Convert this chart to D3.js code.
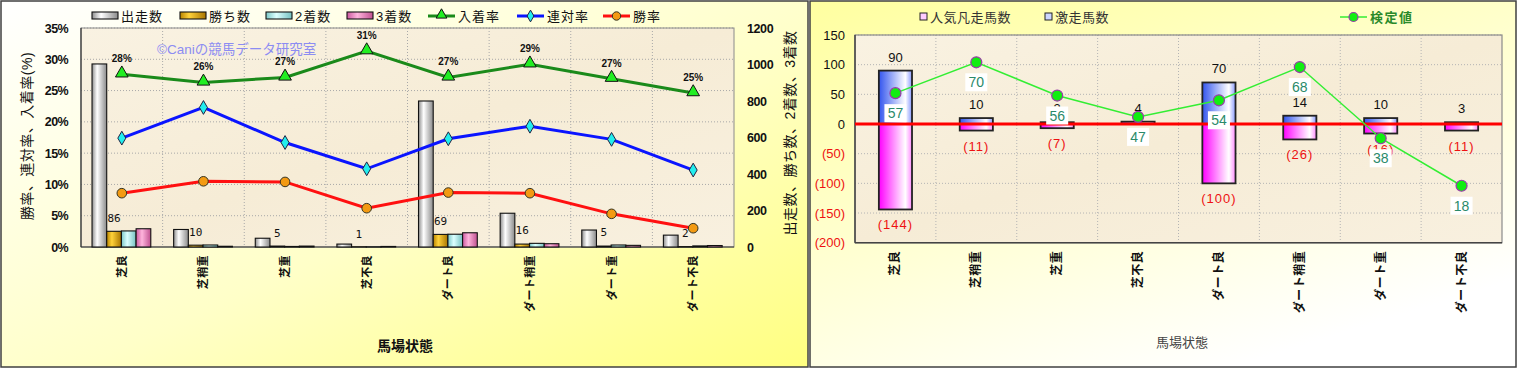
<!DOCTYPE html>
<html><head><meta charset="utf-8">
<script src="https://cdn.jsdelivr.net/npm/d3@7"></script>
<style>
html,body{margin:0;padding:0;background:#fff;}
svg{display:block;font-family:"Liberation Sans","Noto Sans CJK JP",sans-serif;}
</style></head><body>
<svg id="c" width="1518" height="369"></svg>
<script>
// ---------- data ----------
const categories = ["芝良","芝稍重","芝重","芝不良","ダート良","ダート稍重","ダート重","ダート不良"];
// left chart (counts)
const starts  = [1003, 96, 48, 16, 800, 185, 93, 65];
const wins    = [86, 10, 5, 1, 69, 16, 5, 2];
const seconds = [88, 11, 3, 1, 70, 20, 11, 6];
const thirds  = [100, 4, 5, 3, 78, 18, 9, 8];
// left chart (rates, %)
const placeRate  = [27.6, 26.3, 27.1, 31.3, 27.1, 29.2, 26.9, 24.6];
const rentaiRate = [17.4, 22.3, 16.7, 12.5, 17.3, 19.3, 17.2, 12.3];
const winRate    = [8.6, 10.5, 10.4, 6.2, 8.7, 8.6, 5.3, 3.0];
const leftTicks  = [0,5,10,15,20,25,30,35];
const rightTicks = [0,200,400,600,800,1000,1200];
// right chart
const gekisou = [90, 10, 3, 4, 70, 14, 10, 3];      // 激走馬数
const bonsou  = [144, 11, 7, 0, 100, 26, 16, 11];   // 人気凡走馬数
const kentei  = [57, 70, 56, 47, 54, 68, 38, 18];   // 検定値
const rightYTicks = [-200,-150,-100,-50,0,50,100,150];

const svg = d3.select("#c");
const defs = svg.append("defs");
function grad(id, stops, x2=1, y2=0){
  const g = defs.append("linearGradient").attr("id", id)
    .attr("x1",0).attr("y1",0).attr("x2",x2).attr("y2",y2);
  stops.forEach(s=>g.append("stop").attr("offset",s[0]).attr("stop-color",s[1]));
}
grad("bgL", [[0,"#ffffff"],[0.55,"#ffffc8"],[1,"#ffff80"]], 1, 1);
grad("bgR", [[0,"#ffffa0"],[0.6,"#ffffd8"],[1,"#ffffff"]], 0.6, 1);
grad("gStart", [[0,"#8e8e8e"],[0.35,"#ffffff"],[1,"#8a8a8a"]]);
grad("gWin", [[0,"#b88400"],[0.35,"#ffd23a"],[1,"#a87400"]]);
grad("gSec", [[0,"#7cc8c8"],[0.4,"#dcffff"],[1,"#74c0c0"]]);
grad("gThr", [[0,"#cc5aa0"],[0.4,"#ffb4dc"],[1,"#c05090"]]);
grad("gBlue", [[0,"#3355ee"],[0.8,"#ffffff"],[1,"#8899ff"]]);
grad("gPink", [[0,"#ff00ff"],[0.8,"#ffffff"],[1,"#ff88ff"]]);
grad("plotBg", [[0,"#f9f2e2"],[0.5,"#f6ecd6"],[1,"#f8f0df"]], 1, 1);

// ---------- LEFT CHART ----------
const L = svg.append("g");
L.append("rect").attr("x",1).attr("y",1).attr("width",807).attr("height",366)
  .attr("fill","url(#bgL)").attr("stroke","#404040").attr("stroke-width",1.5);

const pl = {l:81, r:734, t:28, b:247};
const x0 = d3.scaleBand().domain(categories).range([pl.l, pl.r]);
const bw = x0.bandwidth();
const yL = d3.scaleLinear().domain([0,35]).range([pl.b, pl.t]);
const yR = d3.scaleLinear().domain([0,1200]).range([pl.b, pl.t]);

L.append("rect").attr("x",pl.l).attr("y",pl.t).attr("width",pl.r-pl.l).attr("height",pl.b-pl.t)
  .attr("fill","url(#plotBg)");
// grid
L.append("g").selectAll("line").data(leftTicks.slice(1)).join("line")
  .attr("x1",pl.l).attr("x2",pl.r).attr("y1",d=>yL(d)).attr("y2",d=>yL(d))
  .attr("stroke","#a8a8a8").attr("stroke-dasharray","1,2");
L.append("g").selectAll("line").data(categories.slice(1)).join("line")
  .attr("x1",d=>x0(d)).attr("x2",d=>x0(d)).attr("y1",pl.t).attr("y2",pl.b)
  .attr("stroke","#a8a8a8").attr("stroke-dasharray","1,2");
L.append("rect").attr("x",pl.l).attr("y",pl.t).attr("width",pl.r-pl.l).attr("height",pl.b-pl.t)
  .attr("fill","none").attr("stroke","#8a8a8a").attr("stroke-width",1);
L.append("line").attr("x1",pl.l).attr("x2",pl.l).attr("y1",pl.t).attr("y2",pl.b).attr("stroke","#333").attr("stroke-width",1.2);
L.append("line").attr("x1",pl.l).attr("x2",pl.r).attr("y1",pl.b).attr("y2",pl.b).attr("stroke","#333").attr("stroke-width",1.2);

// bars
const seriesL = [
  {key:"出走数", vals:starts, fill:"url(#gStart)"},
  {key:"勝ち数", vals:wins, fill:"url(#gWin)"},
  {key:"2着数", vals:seconds, fill:"url(#gSec)"},
  {key:"3着数", vals:thirds, fill:"url(#gThr)"}
];
const x1 = d3.scaleBand().domain(seriesL.map(s=>s.key)).range([bw*0.135, bw*0.855]);
seriesL.forEach(s=>{
  L.append("g").selectAll("rect").data(categories).join("rect")
    .attr("x",(c)=>x0(c)+x1(s.key)).attr("width",x1.bandwidth())
    .attr("y",(c,i)=>yR(s.vals[i])).attr("height",(c,i)=>pl.b-yR(s.vals[i]))
    .attr("fill",s.fill).attr("stroke","#111").attr("stroke-width",1.1);
});
// win count labels
L.append("g").selectAll("text").data(categories).join("text")
  .attr("x",c=>x0(c)+x1("勝ち数")+x1.bandwidth()/2)
  .attr("y",(c,i)=>yR(Math.max(wins[i],seconds[i]))-9)
  .attr("text-anchor","middle").attr("font-size",11).attr("fill","#111")
  .attr("font-family","'DejaVu Sans Mono','Liberation Mono',monospace")
  .text((c,i)=>wins[i]);

// lines
const cx = c=>x0(c)+bw/2;
function drawLine(vals, color){
  L.append("path").datum(vals)
    .attr("d", d3.line().x((v,i)=>cx(categories[i])).y(v=>yL(v)))
    .attr("fill","none").attr("stroke",color).attr("stroke-width",3);
}
drawLine(placeRate,"#1a8a1a");
drawLine(rentaiRate,"#0a14ff");
drawLine(winRate,"#ff1010");
const tri = d3.symbol().type(d3.symbolTriangle).size(70);
const dia = d3.symbol().type(d3.symbolDiamond).size(55);
L.append("g").selectAll("path").data(placeRate).join("path")
  .attr("d",tri).attr("transform",(v,i)=>`translate(${cx(categories[i])},${yL(v)-1})`)
  .attr("fill","#22ee22").attr("stroke","#111").attr("stroke-width",1);
L.append("g").selectAll("path").data(rentaiRate).join("path")
  .attr("d",dia).attr("transform",(v,i)=>`translate(${cx(categories[i])},${yL(v)})`)
  .attr("fill","#22eeee").attr("stroke","#224").attr("stroke-width",1);
L.append("g").selectAll("circle").data(winRate).join("circle")
  .attr("cx",(v,i)=>cx(categories[i])).attr("cy",v=>yL(v)).attr("r",4.8)
  .attr("fill","#f39a12").attr("stroke","#332").attr("stroke-width",1);
// place-rate labels
L.append("g").selectAll("text").data(placeRate).join("text")
  .attr("x",(v,i)=>cx(categories[i])).attr("y",v=>yL(v)-12)
  .attr("text-anchor","middle").attr("font-size",10).attr("font-weight","bold").attr("fill","#111")
  .text(v=>Math.round(v)+"%");

// watermark
L.append("text").attr("x",157).attr("y",54).attr("font-size",13.5).attr("fill","#8c8cf2")
  .text("©Caniの競馬データ研究室");

// left axis
const axL = L.append("g").attr("transform",`translate(${pl.l},0)`)
  .call(d3.axisLeft(yL).tickValues(leftTicks).tickFormat(d=>d+"%").tickSize(0).tickPadding(13));
axL.select(".domain").remove();
axL.selectAll("text").attr("font-size",12.5).attr("font-weight","bold").attr("fill","#111")
  .attr("font-family","'Liberation Sans',sans-serif").attr("letter-spacing","-0.6");
// right axis
const axR = L.append("g").attr("transform",`translate(${pl.r},0)`)
  .call(d3.axisRight(yR).tickValues(rightTicks).tickFormat(d3.format("d")).tickSize(0).tickPadding(13));
axR.select(".domain").remove();
axR.selectAll("text").attr("font-size",12.5).attr("font-weight","bold").attr("fill","#111")
  .attr("font-family","'Liberation Sans',sans-serif").attr("letter-spacing","-0.4");
// x labels
L.append("g").selectAll("text").data(categories).join("text")
  .attr("transform",c=>`translate(${cx(c)+4},${pl.b+8}) rotate(-90)`)
  .attr("text-anchor","end").attr("font-size",11).attr("letter-spacing","0.4").attr("font-weight","bold").attr("fill","#111")
  .text(c=>c);
// axis titles
L.append("text").attr("transform","translate(32,136) rotate(-90)").attr("text-anchor","middle")
  .attr("font-size",14).attr("fill","#111").attr("letter-spacing","0.5").text("勝率、連対率、入着率(%)");
L.append("text").attr("transform","translate(795,133) rotate(-90)").attr("text-anchor","middle")
  .attr("font-size",14).attr("fill","#111").attr("letter-spacing","0.5").text("出走数、勝ち数、2着数、3着数");
L.append("text").attr("x",405).attr("y",351).attr("text-anchor","middle")
  .attr("font-size",14).attr("font-weight","bold").attr("fill","#111").text("馬場状態");

// legend
const legL = L.append("g");
const legBars = [{x:92,label:"出走数",fill:"url(#gStart)"},{x:180,label:"勝ち数",fill:"url(#gWin)"},
  {x:266,label:"2着数",fill:"url(#gSec)"},{x:347,label:"3着数",fill:"url(#gThr)"}];
legBars.forEach(b=>{
  legL.append("rect").attr("x",b.x).attr("y",12).attr("width",26).attr("height",7)
    .attr("fill",b.fill).attr("stroke","#111").attr("stroke-width",1.1);
  legL.append("text").attr("x",b.x+29).attr("y",21).attr("font-size",13).attr("letter-spacing","1")
    .attr("fill","#111").text(b.label);
});
const legLines = [{x:428,label:"入着率",color:"#1a8a1a",m:"tri"},{x:517,label:"連対率",color:"#0a14ff",m:"dia"},
  {x:603,label:"勝率",color:"#ff1010",m:"cir"}];
legLines.forEach(b=>{
  legL.append("line").attr("x1",b.x).attr("x2",b.x+27).attr("y1",16).attr("y2",16)
    .attr("stroke",b.color).attr("stroke-width",3);
  const mx=b.x+13.5;
  if(b.m==="tri") legL.append("path").attr("d",d3.symbol().type(d3.symbolTriangle).size(50)).attr("transform",`translate(${mx},15)`).attr("fill","#22ee22").attr("stroke","#111");
  if(b.m==="dia") legL.append("path").attr("d",d3.symbol().type(d3.symbolDiamond).size(40)).attr("transform",`translate(${mx},16)`).attr("fill","#22eeee").attr("stroke","#224");
  if(b.m==="cir") legL.append("circle").attr("cx",mx).attr("cy",16).attr("r",4.2).attr("fill","#f39a12").attr("stroke","#332");
  legL.append("text").attr("x",b.x+30).attr("y",21).attr("font-size",13).attr("letter-spacing","1")
    .attr("fill","#111").text(b.label);
});

// ---------- RIGHT CHART ----------
const R = svg.append("g");
R.append("rect").attr("x",810).attr("y",1).attr("width",706).attr("height",366)
  .attr("fill","url(#bgR)").attr("stroke","#404040").attr("stroke-width",1.5);
const pr = {l:855, r:1502, t:35, b:242.7};
const xr = d3.scaleBand().domain(categories).range([pr.l, pr.r]);
const bwr = xr.bandwidth();
const yr = d3.scaleLinear().domain([-200,150]).range([pr.b, pr.t]);
const yk = d3.scaleLinear().domain([-6,81.5]).range([pr.b, pr.t]);

R.append("rect").attr("x",pr.l).attr("y",pr.t).attr("width",pr.r-pr.l).attr("height",pr.b-pr.t)
  .attr("fill","url(#plotBg)");
R.append("g").selectAll("line").data(rightYTicks.slice(1)).join("line")
  .attr("x1",pr.l).attr("x2",pr.r).attr("y1",d=>yr(d)).attr("y2",d=>yr(d))
  .attr("stroke","#b4b4b4").attr("stroke-dasharray","1,2");
R.append("g").selectAll("line").data(categories.slice(1)).join("line")
  .attr("x1",d=>xr(d)).attr("x2",d=>xr(d)).attr("y1",pr.t).attr("y2",pr.b)
  .attr("stroke","#b4b4b4").attr("stroke-dasharray","1,2");
R.append("rect").attr("x",pr.l).attr("y",pr.t).attr("width",pr.r-pr.l).attr("height",pr.b-pr.t)
  .attr("fill","none").attr("stroke","#8a8a8a").attr("stroke-width",1.2);
R.append("line").attr("x1",pr.l).attr("x2",pr.l).attr("y1",pr.t).attr("y2",pr.b).attr("stroke","#444").attr("stroke-width",1.5);
R.append("line").attr("x1",pr.l).attr("x2",pr.r).attr("y1",pr.b).attr("y2",pr.b).attr("stroke","#444").attr("stroke-width",1.5);

const rbw = bwr*0.41;
const rcx = c=>xr(c)+bwr/2;
R.append("g").selectAll("rect").data(categories).join("rect")
  .attr("x",c=>rcx(c)-rbw/2).attr("width",rbw)
  .attr("y",(c,i)=>yr(gekisou[i])).attr("height",(c,i)=>yr(0)-yr(gekisou[i]))
  .attr("fill","url(#gBlue)").attr("stroke","#222").attr("stroke-width",1.8);
R.append("g").selectAll("rect").data(categories).join("rect")
  .attr("x",c=>rcx(c)-rbw/2).attr("width",rbw)
  .attr("y",yr(0)).attr("height",(c,i)=>yr(-bonsou[i])-yr(0))
  .attr("fill","url(#gPink)").attr("stroke","#222").attr("stroke-width",1.8);
// bar labels
R.append("g").selectAll("text").data(categories).join("text")
  .attr("x",c=>rcx(c)).attr("y",(c,i)=>yr(gekisou[i])-9)
  .attr("text-anchor","middle").attr("font-size",13).attr("fill","#111")
  .text((c,i)=>gekisou[i]);
R.append("g").selectAll("text").data(categories.filter((c,i)=>bonsou[i]>0)).join("text")
  .attr("x",c=>rcx(c)).attr("y",c=>yr(-bonsou[categories.indexOf(c)])+20)
  .attr("text-anchor","middle").attr("font-size",13).attr("fill","#ee1111").attr("letter-spacing","1")
  .text(c=>"("+bonsou[categories.indexOf(c)]+")");
// zero line
R.append("line").attr("x1",pr.l).attr("x2",pr.r).attr("y1",yr(0)).attr("y2",yr(0))
  .attr("stroke","#ff0000").attr("stroke-width",3);
// kentei line
R.append("path").datum(kentei)
  .attr("d",d3.line().x((v,i)=>rcx(categories[i])).y(v=>yk(v)))
  .attr("fill","none").attr("stroke","#33ee33").attr("stroke-width",1.5);
const kl = R.append("g").selectAll("g").data(kentei).join("g")
  .attr("transform",(v,i)=>`translate(${rcx(categories[i])},${yk(v)+20})`);
kl.append("rect").attr("x",-11).attr("y",-9).attr("width",22).attr("height",18).attr("fill","#fff");
kl.append("text").attr("y",5).attr("text-anchor","middle").attr("font-size",14).attr("fill","#2a8a6a").text(v=>v);
R.append("g").selectAll("circle").data(kentei).join("circle")
  .attr("cx",(v,i)=>rcx(categories[i])).attr("cy",v=>yk(v)).attr("r",5.5)
  .attr("fill","#11ee11").attr("stroke","#9a3aaa").attr("stroke-width",1.2);

// y axis
const axr = R.append("g").attr("transform",`translate(${pr.l},0)`)
  .call(d3.axisLeft(yr).tickValues(rightYTicks).tickFormat(d=>d<0?`(${-d})`:d).tickSize(0).tickPadding(10));
axr.select(".domain").remove();
axr.selectAll("text").attr("font-size",13).attr("fill",d=>d<0?"#ee1111":"#111");
// x labels
R.append("g").selectAll("text").data(categories).join("text")
  .attr("transform",c=>`translate(${rcx(c)+4},${pr.b+8}) rotate(-90)`)
  .attr("text-anchor","end").attr("font-size",12).attr("letter-spacing","0.5").attr("font-weight","bold").attr("fill","#111")
  .text(c=>c);
R.append("text").attr("x",1182).attr("y",347).attr("text-anchor","middle")
  .attr("font-size",13).attr("fill","#444").text("馬場状態");
// legend
const legR = R.append("g");
legR.append("rect").attr("x",920).attr("y",13).attr("width",7).attr("height",7)
  .attr("fill","#ffccff").attr("stroke","#222").attr("stroke-width",1);
legR.append("text").attr("x",930).attr("y",22).attr("font-size",13).attr("fill","#333").attr("letter-spacing","0.5").text("人気凡走馬数");
legR.append("rect").attr("x",1045).attr("y",13).attr("width",7).attr("height",7)
  .attr("fill","#ccd6ff").attr("stroke","#222").attr("stroke-width",1);
legR.append("text").attr("x",1055).attr("y",22).attr("font-size",13).attr("fill","#333").attr("letter-spacing","0.5").text("激走馬数");
legR.append("line").attr("x1",1340).attr("x2",1367).attr("y1",17).attr("y2",17).attr("stroke","#33ee33").attr("stroke-width",1.5);
legR.append("circle").attr("cx",1353.5).attr("cy",17).attr("r",4.5).attr("fill","#11ee11").attr("stroke","#9a3aaa").attr("stroke-width",1.2);
legR.append("text").attr("x",1370).attr("y",22).attr("font-size",13).attr("fill","#2a8a2a").attr("letter-spacing","1.5").attr("font-weight","bold").text("検定値");
</script></body></html>
